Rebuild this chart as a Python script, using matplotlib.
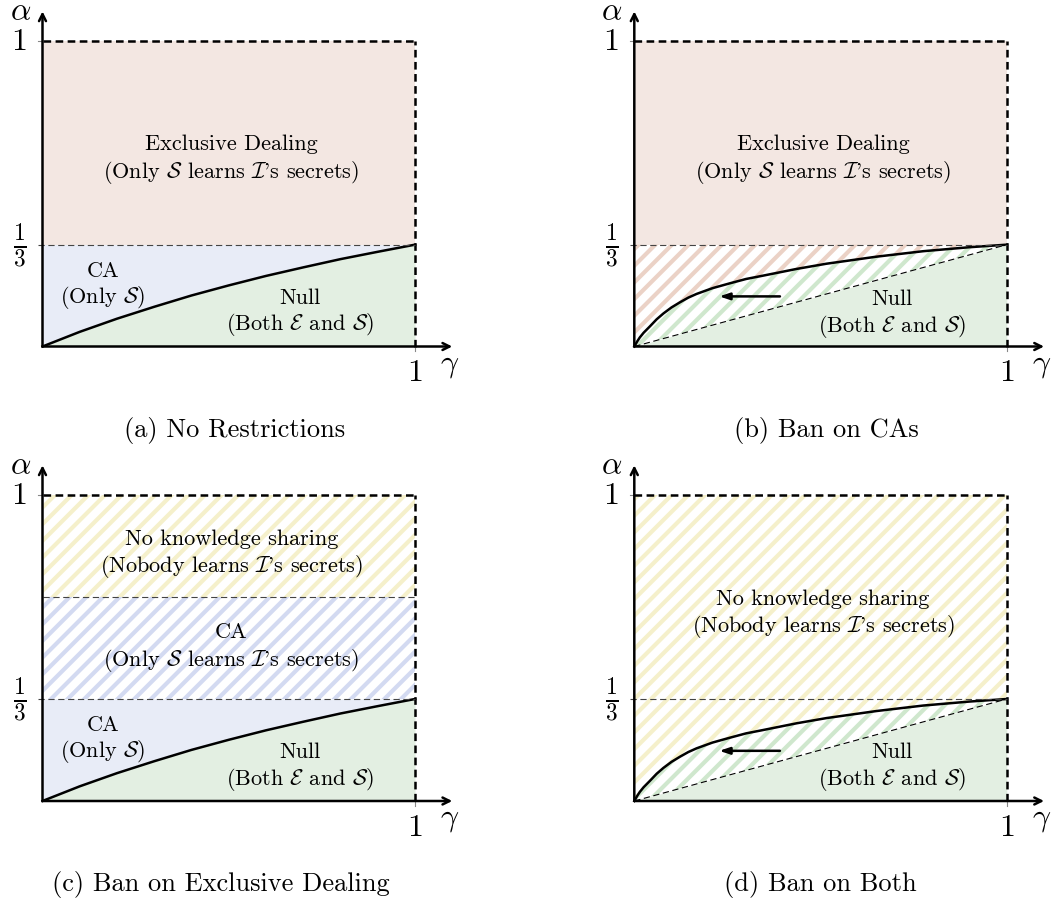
import numpy as np
import matplotlib
matplotlib.use('Agg')
import matplotlib.pyplot as plt

plt.rcParams['font.family'] = ['cmr10', 'DejaVu Serif']
plt.rcParams['mathtext.fontset'] = 'cm'
plt.rcParams['hatch.linewidth'] = 3.0
plt.rcParams['lines.scale_dashes'] = False

# boundary curve without restrictions (gamma, alpha)
g_a = [0.0, 0.1, 0.2, 0.3, 0.4, 0.5, 0.6, 0.7, 0.8, 0.9, 1.0]
a_a = [0.0, 0.048, 0.091, 0.130, 0.167, 0.200, 0.231, 0.259, 0.286, 0.310, 1/3]

# boundary curve when CAs are banned
g_b = [0.0, 0.008, 0.015, 0.025, 0.042, 0.06, 0.078, 0.10, 0.123, 0.145, 0.167,
       0.21, 0.257, 0.30, 0.346, 0.436, 0.516, 0.65, 0.776, 0.9, 1.0]
a_b = [0.0, 0.017, 0.030, 0.045, 0.066, 0.089, 0.108, 0.128, 0.145, 0.160, 0.172,
       0.191, 0.207, 0.221, 0.232, 0.254, 0.271, 0.294, 0.312, 0.325, 1/3]

third = 1/3
two_thirds = 2/3

# arrow showing where the boundary moves
arrow_g = [0.391, 0.228]
arrow_a = 0.164

captions = ['(a) No Restrictions', '(b) Ban on CAs',
            '(c) Ban on Exclusive Dealing', '(d) Ban on Both']

pink = '#f3e7e2'
blue = '#e8ecf7'
green = '#e3efe2'
h_red = '#ebd2c6'
h_green = '#cfe7cd'
h_yellow = '#f5f0cb'
h_blue = '#d3daf1'

W, H = 1054, 904
fig = plt.figure(figsize=(W/100, H/100), dpi=100)

xl = (-0.12, 1.2)
yl = (-0.2, 1.12)
sx = 372.5


def make_ax(ox, oy, sy):
    left = (ox + xl[0]*sx) / W
    bottom = 1 - (oy - yl[0]*sy) / H
    ax = fig.add_axes([left, bottom, (xl[1]-xl[0])*sx/W, (yl[1]-yl[0])*sy/H])
    ax.set_xlim(xl)
    ax.set_ylim(yl)
    ax.axis('off')
    return ax


def frame(ax, mid=None):
    # outer box, thin dashed guides, ticks, axes and labels
    ax.plot([0, 1], [1, 1], color='k', lw=1.8, dashes=(5.5, 3.2))
    ax.plot([1, 1], [0, 1], color='k', lw=1.8, dashes=(5.5, 3.2))
    for yv in [third] + ([mid] if mid else []):
        ax.plot([-0.012 if yv == third else 0, 1], [yv, yv], color='#444444',
                lw=0.8, dashes=(4.5, 2.6))
    ax.plot([-0.012, 0], [1, 1], color='#888888', lw=0.8)
    ax.plot([1, 1], [-0.015, 0], color='#888888', lw=0.8)
    ax.annotate('', xy=(1.1, 0), xytext=(0, 0),
                arrowprops=dict(arrowstyle='->,head_length=0.5,head_width=0.25',
                                lw=1.8, color='k', shrinkA=0, shrinkB=0))
    ax.annotate('', xy=(0, 1.097), xytext=(0, 0),
                arrowprops=dict(arrowstyle='->,head_length=0.5,head_width=0.25',
                                lw=1.8, color='k', shrinkA=0, shrinkB=0))
    ax.text(-0.062, 1, '1', fontsize=23, ha='center', va='center')
    ax.text(-0.06, third, r'$\frac{1}{3}$', fontsize=24, ha='center', va='center')
    ax.text(1, -0.085, '1', fontsize=23, ha='center', va='center')
    ax.text(1.094, -0.06, r'$\gamma$', fontsize=23, ha='center', va='center')
    ax.text(-0.06, 1.098, r'$\alpha$', fontsize=23, ha='center', va='center')


def hatch(ax, x, lo, hi, color):
    ax.fill_between(x, lo, hi, facecolor='none', edgecolor=color,
                    hatch='//', linewidth=0)


fs = 16
cfs = 19
null_txt = ['Null', r'(Both $\mathcal{E}$ and $\mathcal{S}$)']

ga = np.array(g_a)
aa = np.array(a_a)
gb = np.array(g_b)
ab = np.array(a_b)

# (a)
ax = make_ax(42.5, 347.5, 305.5)
ax.fill_between([0, 1], third, 1, color=pink, lw=0)
ax.fill_between(ga, aa, third, color=blue, lw=0)
ax.fill_between(ga, 0, aa, color=green, lw=0)
ax.plot(ga, aa, color='k', lw=1.8)
frame(ax)
ax.text(0.507, 0.665, 'Exclusive Dealing', fontsize=fs, ha='center', va='center')
ax.text(0.507, 0.574, r"(Only $\mathcal{S}$ learns $\mathcal{I}$'s secrets)",
        fontsize=fs, ha='center', va='center')
ax.text(0.162, 0.248, 'CA', fontsize=fs, ha='center', va='center')
ax.text(0.162, 0.163, r'(Only $\mathcal{S}$)', fontsize=fs, ha='center', va='center')
ax.text(0.691, 0.162, null_txt[0], fontsize=fs, ha='center', va='center')
ax.text(0.691, 0.074, null_txt[1], fontsize=fs, ha='center', va='center')
ax.text(0.515, -0.271, captions[0], fontsize=cfs, ha='center', va='center')

# (b)
ax = make_ax(634.3, 347.5, 305.5)
ax.fill_between([0, 1], third, 1, color=pink, lw=0)
ax.fill_between(gb, gb/3, 0, color=green, lw=0)
hatch(ax, gb, ab, third, h_red)
hatch(ax, gb, gb/3, ab, h_green)
ax.plot(gb, ab, color='k', lw=1.8)
ax.plot([0, 1], [0, third], color='k', lw=0.8, dashes=(4.5, 2.6))
ax.annotate('', xy=(arrow_g[1], arrow_a), xytext=(arrow_g[0], arrow_a),
            arrowprops=dict(arrowstyle='-|>,head_length=0.6,head_width=0.2',
                            lw=1.8, color='k', shrinkA=0, shrinkB=0))
frame(ax)
ax.text(0.507, 0.665, 'Exclusive Dealing', fontsize=fs, ha='center', va='center')
ax.text(0.507, 0.574, r"(Only $\mathcal{S}$ learns $\mathcal{I}$'s secrets)",
        fontsize=fs, ha='center', va='center')
ax.text(0.691, 0.159, null_txt[0], fontsize=fs, ha='center', va='center')
ax.text(0.691, 0.070, null_txt[1], fontsize=fs, ha='center', va='center')
ax.text(0.515, -0.271, captions[1], fontsize=cfs, ha='center', va='center')

# (c)
ax = make_ax(42.5, 802, 306)
hatch(ax, [0, 1], two_thirds, 1, h_yellow)
hatch(ax, [0, 1], third, two_thirds, h_blue)
ax.fill_between(ga, aa, third, color=blue, lw=0)
ax.fill_between(ga, 0, aa, color=green, lw=0)
ax.plot(ga, aa, color='k', lw=1.8)
frame(ax, mid=two_thirds)
ax.text(0.507, 0.859, 'No knowledge sharing', fontsize=fs, ha='center', va='center')
ax.text(0.507, 0.771, r"(Nobody learns $\mathcal{I}$'s secrets)",
        fontsize=fs, ha='center', va='center')
ax.text(0.507, 0.554, 'CA', fontsize=fs, ha='center', va='center')
ax.text(0.507, 0.464, r"(Only $\mathcal{S}$ learns $\mathcal{I}$'s secrets)",
        fontsize=fs, ha='center', va='center')
ax.text(0.162, 0.252, 'CA', fontsize=fs, ha='center', va='center')
ax.text(0.162, 0.164, r'(Only $\mathcal{S}$)', fontsize=fs, ha='center', va='center')
ax.text(0.691, 0.161, null_txt[0], fontsize=fs, ha='center', va='center')
ax.text(0.691, 0.072, null_txt[1], fontsize=fs, ha='center', va='center')
ax.text(0.479, -0.268, captions[2], fontsize=cfs, ha='center', va='center')

# (d)
ax = make_ax(634.3, 802, 306)
hatch(ax, gb, ab, 1, h_yellow)
ax.fill_between(gb, gb/3, 0, color=green, lw=0)
hatch(ax, gb, gb/3, ab, h_green)
ax.plot(gb, ab, color='k', lw=1.8)
ax.plot([0, 1], [0, third], color='k', lw=0.8, dashes=(4.5, 2.6))
ax.annotate('', xy=(arrow_g[1], arrow_a), xytext=(arrow_g[0], arrow_a),
            arrowprops=dict(arrowstyle='-|>,head_length=0.6,head_width=0.2',
                            lw=1.8, color='k', shrinkA=0, shrinkB=0))
frame(ax)
ax.text(0.507, 0.663, 'No knowledge sharing', fontsize=fs, ha='center', va='center')
ax.text(0.507, 0.575, r"(Nobody learns $\mathcal{I}$'s secrets)",
        fontsize=fs, ha='center', va='center')
ax.text(0.691, 0.161, null_txt[0], fontsize=fs, ha='center', va='center')
ax.text(0.691, 0.072, null_txt[1], fontsize=fs, ha='center', va='center')
ax.text(0.4985, -0.268, captions[3], fontsize=cfs, ha='center', va='center')

fig.savefig('out.png', dpi=100)
